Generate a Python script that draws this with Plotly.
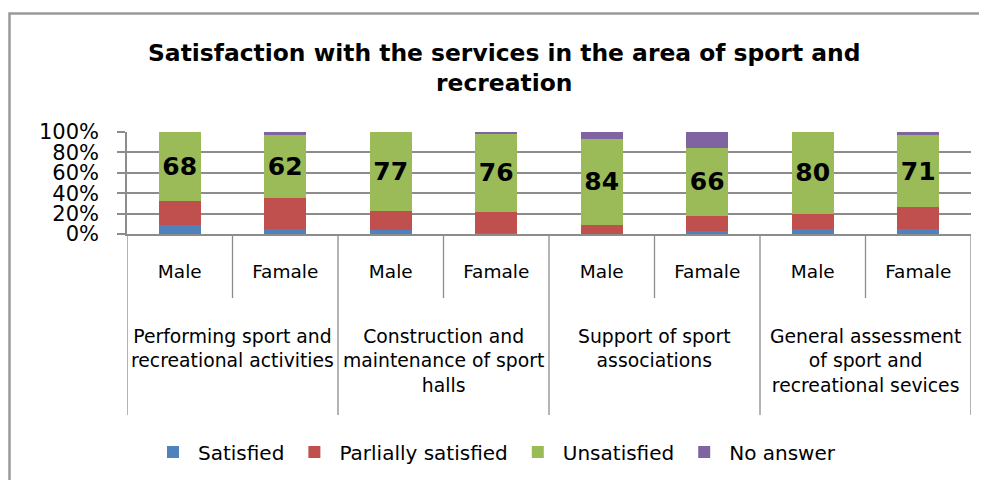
import plotly.graph_objects as go

genders = ["Male", "Famale", "Male", "Famale", "Male", "Famale", "Male", "Famale"]
groups = [
    "Performing sport and<br>recreational activities",
    "Construction and<br>maintenance of sport<br>halls",
    "Support of sport<br>associations",
    "General assessment<br>of sport and<br>recreational sevices",
]
y_ticks = [0, 20, 40, 60, 80, 100]
y_ticklabels = ["0%", "20%", "40%", "60%", "80%", "100%"]
satisfied = [9, 5, 4, 1, 0, 3, 5, 5]
partially = [23, 30, 19, 21, 9, 15, 15, 21]
unsatisfied = [68, 62, 77, 76, 84, 66, 80, 71]
no_answer = [0, 3, 0, 2, 7, 16, 0, 3]

series = [
    ("Satisfied", satisfied, "#4F81BD"),
    ("Parlially satisfied", partially, "#C0504D"),
    ("Unsatisfied", unsatisfied, "#9BBB59"),
    ("No answer", no_answer, "#8064A2"),
]

FONT = "DejaVu Sans"
xpos = list(range(len(genders)))

fig = go.Figure()
for name, vals, col in series:
    kw = {}
    if name == "Unsatisfied":
        kw = dict(
            text=[str(v) for v in vals],
            textposition="inside",
            insidetextanchor="middle",
            textfont=dict(family=FONT, size=25, color="black", weight="bold"),
            constraintext="none",
        )
    fig.add_trace(go.Bar(x=xpos, y=vals, name=name, marker=dict(color=col, line=dict(width=0)),
                         width=0.4, **kw))

# page has an 8px body margin; work in page pixels and shift
OFF = 8
W, H = 987 - OFF, 480 - OFF
L, R, T, B = 127 - OFF, 971 - OFF, 132 - OFF, 234 - OFF
pw, ph = R - L, B - T

def py(p):  # page pixel y -> paper
    return (B - (p - OFF)) / ph

def px(p):  # page pixel x -> paper
    return ((p - OFF) - L) / pw

def cy(p):  # page pixel y -> container
    return 1 - (p - OFF) / H

def cx(p):  # page pixel x -> container
    return (p - OFF) / W

shapes = []
# inner dividers (between Male/Famale)
for i in range(0, 8, 2):
    shapes.append(dict(type="line", xref="x", yref="paper", x0=i + 0.5, x1=i + 0.5,
                       y0=0, y1=py(298), line=dict(color="#8c8c8c", width=1.3)))
# group dividers
for i in range(-1, 8, 2):
    shapes.append(dict(type="line", xref="x", yref="paper", x0=i + 0.5, x1=i + 0.5,
                       y0=0, y1=py(415), line=dict(color="#8c8c8c", width=1.3)))
# outer chart border
shapes.append(dict(type="rect", xref="paper", yref="paper", x0=px(9.5), x1=px(1000),
                   y0=py(495), y1=py(13.5), line=dict(color="#9a9a9a", width=2.5), layer="below"))

annotations = []
for gi, g in enumerate(groups):
    annotations.append(dict(x=gi * 2 + 0.5, xref="x", y=py(324), yref="paper", text=g,
                            showarrow=False, xanchor="center", yanchor="top",
                            font=dict(family=FONT, size=18.8, color="black")))
annotations.append(dict(x=px(504), xref="paper", y=py(67.5), yref="paper",
                        text="<b>Satisfaction with the services in the area of sport and<br>recreation</b>",
                        showarrow=False, xanchor="center", yanchor="middle",
                        font=dict(family=FONT, size=23.4, color="black")))

fig.update_layout(
    barmode="stack",
    width=W, height=H,
    margin=dict(l=L, r=W - R, t=T, b=H - B, pad=0, autoexpand=False),
    paper_bgcolor="white", plot_bgcolor="white",
    showlegend=True,
    legend=dict(orientation="h", xref="container", yref="container",
                x=cx(148), xanchor="left", y=cy(452), yanchor="middle",
                itemwidth=40,
                font=dict(family=FONT, size=20, color="black"), traceorder="normal",
                itemclick=False),
    xaxis=dict(range=[-0.5, 7.5], tickvals=xpos, ticktext=genders, showgrid=False,
               showline=True, linecolor="#8c8c8c", linewidth=1.5, ticks="",
               tickfont=dict(family=FONT, size=18.5, color="black"),
               ticklabelstandoff=20, zeroline=False, fixedrange=True, automargin=False),
    yaxis=dict(range=[0, 100], tickvals=y_ticks, ticktext=y_ticklabels,
               showgrid=True, gridcolor="#8c8c8c", gridwidth=1.5, showline=True,
               linecolor="#8c8c8c", linewidth=1.5, ticks="outside", ticklen=8,
               tickcolor="#8c8c8c", tickwidth=1.5,
               tickfont=dict(family=FONT, size=21, color="black"),
               ticklabelstandoff=14, zeroline=False, fixedrange=True, automargin=False),
    shapes=shapes,
    annotations=annotations,
    font=dict(family=FONT),
)

fig.write_html("out.html")
